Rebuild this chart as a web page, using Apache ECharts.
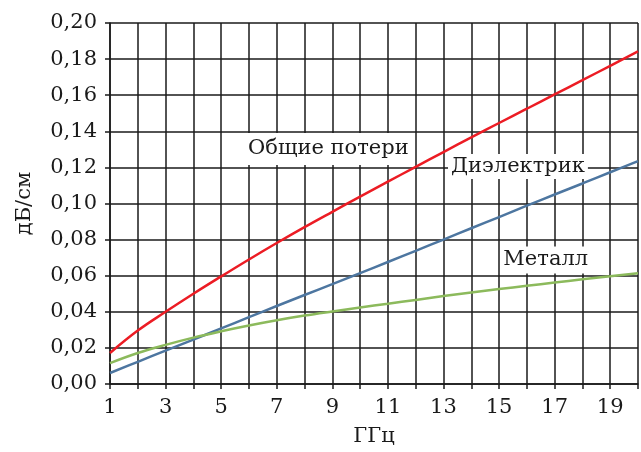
<!DOCTYPE html>
<html>
<head>
<meta charset="utf-8">
<script src="https://cdn.jsdelivr.net/npm/echarts@6/dist/echarts.min.js"></script>
<style>
html,body{margin:0;padding:0;background:#fff;}
#chart{width:641px;height:452px;}
</style>
</head>
<body>
<div id="chart"></div>
<script>
const freqs = [1,2,3,4,5,6,7,8,9,10,11,12,13,14,15,16,17,18,19,20];
const totalLoss = [0.0172,0.0296,0.0400,0.0500,0.0596,0.0690,0.0781,0.0869,0.0954,0.1038,0.1121,0.1203,0.1285,0.1366,0.1446,0.1525,0.1604,0.1683,0.1763,0.1843];
const dielectric = [0.0061,0.0123,0.0185,0.0246,0.0308,0.0370,0.0432,0.0493,0.0553,0.0614,0.0676,0.0738,0.0800,0.0863,0.0925,0.0988,0.1050,0.1111,0.1173,0.1235];
const metal = [0.0116,0.0172,0.0217,0.0257,0.0292,0.0324,0.0353,0.0379,0.0402,0.0424,0.0445,0.0466,0.0487,0.0507,0.0526,0.0544,0.0562,0.0580,0.0597,0.0614];
const xLabelValues = [1,3,5,7,9,11,13,15,17,19];
const seriesNames = ['Общие потери','Диэлектрик','Металл'];
const labelPos = [[8.86,0.1302],[15.68,0.1205],[16.68,0.0687]];
const labelPad = [[4,4,4,4],[1,3,0,3],[2,3,1,3]];
const colors = ['#ec1c24','#4d76a0','#8cba5c'];

const FONT = 'DejaVu Serif';
const chart = echarts.init(document.getElementById('chart'), null, {renderer:'canvas'});

function pairs(ys){ return freqs.map((f,i)=>[f, ys[i]]); }

function mkLabel(name, pos, pad){
  return {
    symbol: 'circle', symbolSize: 0, silent: true,
    data: [{ coord: pos, value: name }],
    label: {
      show: true, position: 'inside', formatter: name,
      fontFamily: FONT, fontSize: 21, color: '#1a1a1a',
      backgroundColor: '#fff', padding: pad, lineHeight: 24
    }
  };
}

const allData = [totalLoss, dielectric, metal];
const series = allData.map((d,i)=>({
  name: seriesNames[i],
  type: 'line',
  data: pairs(d),
  smooth: 0.4,
  showSymbol: false,
  lineStyle: {color: colors[i], width: 2.5},
  z: 3,
  markPoint: mkLabel(seriesNames[i], labelPos[i], labelPad[i])
}));

chart.setOption({
  animation: false,
  backgroundColor: '#fff',
  grid: {left: 110, top: 23, width: 532, height: 363, containLabel: false, show: false},
  xAxis: {
    type: 'value', min: 1, max: 20, interval: 1,
    name: 'ГГц', nameLocation: 'middle', nameGap: 42,
    nameTextStyle: {fontFamily: FONT, fontSize: 21, color: '#1a1a1a'},
    axisLine: {show: true, lineStyle: {color: '#1a1a1a', width: 1.5}},
    axisTick: {show: true, inside: false, length: 5, lineStyle: {color: '#1a1a1a', width: 1.5}},
    axisLabel: {
      fontFamily: FONT, fontSize: 21, color: '#1a1a1a', margin: 13,
      formatter: v => xLabelValues.indexOf(v) >= 0 ? String(v) : ''
    },
    splitLine: {show: true, lineStyle: {color: '#1a1a1a', width: 1.5}}
  },
  yAxis: {
    type: 'value', min: 0, max: 0.2, interval: 0.02,
    name: 'дБ/см', nameLocation: 'middle', nameGap: 75, nameRotate: 90,
    nameTextStyle: {fontFamily: FONT, fontSize: 21, color: '#1a1a1a'},
    axisLine: {show: true, lineStyle: {color: '#1a1a1a', width: 1.5}},
    axisTick: {show: true, inside: false, length: 5, lineStyle: {color: '#1a1a1a', width: 1.5}},
    axisLabel: {
      fontFamily: FONT, fontSize: 21, color: '#1a1a1a', margin: 13,
      formatter: v => v.toFixed(2).replace('.', ',')
    },
    splitLine: {show: true, lineStyle: {color: '#1a1a1a', width: 1.5}}
  },
  series: series
});
</script>
</body>
</html>
